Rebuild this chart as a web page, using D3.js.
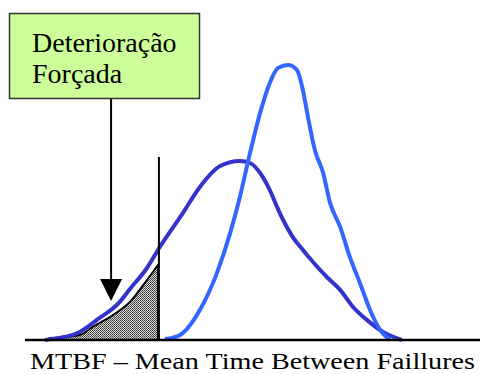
<!DOCTYPE html>
<html>
<head>
<meta charset="utf-8">
<script src="https://cdn.jsdelivr.net/npm/d3@7"></script>
<style>
  body { margin: 0; background: #fff; }
  svg { display: block; }
  text { font-family: "Liberation Serif", "Times New Roman", Times, serif; }
</style>
</head>
<body>
<svg id="chart" width="480" height="374"></svg>
<script>
// dark curve: wide distribution (x, density) in chart units
var wideX = [5.4, 8.7, 13.0, 16.7, 21.7, 23.9, 27.6, 30.4, 35.4, 39.1, 43.5, 47.8, 50.0, 52.8, 54.3, 55.9, 57.2, 59.3, 61.5, 63.7, 66.7, 69.6, 72.4, 75.4, 78.9, 83.0];
var wideY = [0, 0.7, 2.7, 6.7, 12.7, 17, 24, 31, 42.3, 51, 58, 59.7, 59, 54.3, 50, 44.3, 40, 34.3, 30, 26, 21, 16.7, 11, 6.7, 2.7, 0];

// light curve: narrow distribution
var narrowX = [31.5, 34.8, 39.1, 42.8, 45.7, 47.8, 50.0, 52.2, 54.3, 56.1, 58.3, 60.2, 61.5, 62.6, 64.1, 65.9, 67.4, 69.6, 71.7, 73.9, 76.1, 78.3, 80.4];
var narrowY = [0.3, 1.7, 10, 22.3, 35.7, 47.7, 62.3, 75.7, 85.7, 90.7, 91.7, 90, 83.3, 74.3, 63.3, 55.7, 45.7, 37.7, 27.7, 19, 10, 3.3, 0];

// hatched area (forced deterioration)
var hatchX = [6.5, 13, 15.7, 20.2, 23.9, 27.6, 30];
var hatchY = [0.7, 1.7, 4.3, 8.3, 12.7, 20, 25];

var thresholdX = 30.2, thresholdTop = 61;
var arrowX = 19.8, arrowTop = 80.7, arrowTip = 13;

var boxLines = ["Deterioração", "Forçada"];
var axisLabel = "MTBF – Mean Time Between Faillures";

var svg = d3.select("#chart");
var x = d3.scaleLinear().domain([0, 100]).range([20, 480]);
var y = d3.scaleLinear().domain([0, 100]).range([340, 40]);

var defs = svg.append("defs");
var pat = defs.append("pattern")
    .attr("id", "hatch")
    .attr("patternUnits", "userSpaceOnUse")
    .attr("width", 2).attr("height", 2);
pat.append("rect").attr("width", 2).attr("height", 2).attr("fill", "#d8d8d8");
pat.append("rect").attr("width", 1).attr("height", 1).attr("fill", "#333");
pat.append("rect").attr("x", 1).attr("y", 1).attr("width", 1).attr("height", 1).attr("fill", "#555");

function zip(xs, ys) { return xs.map(function (d, i) { return [d, ys[i]]; }); }

var line = d3.line()
    .x(function (d) { return x(d[0]); })
    .y(function (d) { return y(d[1]); })
    .curve(d3.curveMonotoneX);

// hatched area
var area = d3.area()
    .x(function (d) { return x(d[0]); })
    .y0(y(0))
    .y1(function (d) { return y(d[1]); })
    .curve(d3.curveMonotoneX);
svg.append("path")
    .attr("d", area(zip(hatchX, hatchY)))
    .attr("fill", "url(#hatch)")
    .attr("stroke", "#000")
    .attr("stroke-width", 2);

// curves
svg.append("path")
    .attr("d", line(zip(wideX, wideY)))
    .attr("fill", "none")
    .attr("stroke", "#3333cc")
    .attr("stroke-width", 4)
    .attr("stroke-linejoin", "round");

svg.append("path")
    .attr("d", line(zip(narrowX, narrowY)))
    .attr("fill", "none")
    .attr("stroke", "#3366ff")
    .attr("stroke-width", 4)
    .attr("stroke-linejoin", "round");

// threshold line
svg.append("line")
    .attr("x1", x(thresholdX)).attr("x2", x(thresholdX))
    .attr("y1", y(0)).attr("y2", y(thresholdTop))
    .attr("stroke", "#000").attr("stroke-width", 2);

// baseline axis
svg.append("line")
    .attr("x1", 25).attr("x2", 480)
    .attr("y1", y(0)).attr("y2", y(0))
    .attr("stroke", "#000").attr("stroke-width", 2.5);

// arrow from box
svg.append("line")
    .attr("x1", x(arrowX)).attr("x2", x(arrowX))
    .attr("y1", y(arrowTop)).attr("y2", y(arrowTip) - 20)
    .attr("stroke", "#000").attr("stroke-width", 2);
svg.append("path")
    .attr("d", "M" + (x(arrowX) - 11) + "," + (y(arrowTip) - 22) +
        " L" + (x(arrowX) + 11) + "," + (y(arrowTip) - 22) +
        " L" + x(arrowX) + "," + y(arrowTip) + "Z")
    .attr("fill", "#000");

// label box
svg.append("rect")
    .attr("x", 9.5).attr("y", 13.5)
    .attr("width", 190).attr("height", 85)
    .attr("fill", "#ccff99")
    .attr("stroke", "#333").attr("stroke-width", 1.5);

svg.append("g").selectAll("text")
    .data(boxLines)
    .enter().append("text")
    .attr("x", 32)
    .attr("y", function (d, i) { return 52 + i * 31; })
    .attr("font-size", 28)
    .attr("fill", "#000")
    .text(function (d) { return d; });

svg.append("text")
    .attr("x", 30).attr("y", 369)
    .attr("font-size", 23)
    .attr("textLength", 445)
    .attr("lengthAdjust", "spacingAndGlyphs")
    .attr("fill", "#000")
    .text(axisLabel);
</script>
</body>
</html>
